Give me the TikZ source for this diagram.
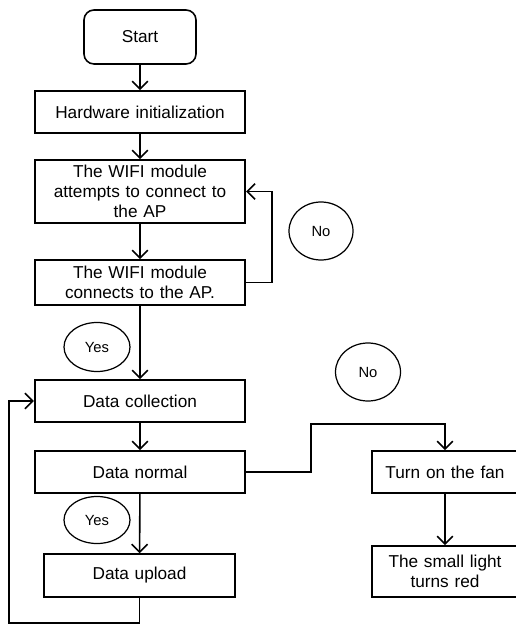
\documentclass[tikz,border=0pt]{standalone}
\usepackage{fontspec}
\setmainfont{Liberation Sans}
\usetikzlibrary{arrows.meta, shapes.geometric}

\begin{document}
\begin{tikzpicture}[
    every node/.style={font=\fontsize{9.8}{11.5}\selectfont, align=center},
    box/.style={draw, line width=0.9pt, inner sep=1pt, text width=#1, minimum width=#1},
    box/.default=4.14cm,
    startbox/.style={draw, line width=0.9pt, rounded corners=0.2cm,
      minimum width=2.24cm, minimum height=1.08cm},
    answer/.style={draw, ellipse, line width=0.7pt, inner sep=0pt,
      font=\fontsize{8.4}{10}\selectfont},
    flow/.style={line width=0.9pt, -{Straight Barb[length=4.5pt, width=9pt]}}]
    \useasboundingbox (0,0) rectangle (10.3,-12.48);
    % main column
    \node[startbox] (start) at (2.8,-0.74) {Start};
    \node[box, minimum height=0.84cm] (hwinit) at (2.8,-2.24) {Hardware initialization};
    \node[box, minimum height=1.26cm] (attempt) at (2.8,-3.83)
      {The WIFI module\\attempts to connect to\\the AP};
    \node[box, minimum height=0.9cm] (connect) at (2.8,-5.65)
      {The WIFI module\\connects to the AP.};
    \node[box, minimum height=0.84cm] (collect) at (2.8,-8.02) {Data collection};
    \node[box, minimum height=0.84cm] (normal) at (2.8,-9.44) {Data normal};
    \node[box=3.74cm, minimum height=0.86cm] (upload) at (2.79,-11.51) {Data upload};
    % right branch
    \node[box=2.84cm, minimum height=0.84cm] (fan) at (8.9,-9.44) {Turn on the fan};
    \node[box=2.84cm, minimum height=1.02cm] (light) at (8.9,-11.43)
      {The small light\\turns red};
    % answers
    \node[answer, minimum width=1.28cm, minimum height=1.16cm] (noA) at (6.42,-4.62) {No};
    \node[answer, minimum width=1.32cm, minimum height=0.98cm] (yesA) at (1.94,-6.94) {Yes};
    \node[answer, minimum width=1.32cm, minimum height=0.94cm] (yesB) at (1.94,-10.4) {Yes};
    \node[answer, minimum width=1.3cm, minimum height=1.16cm] (noB) at (7.36,-7.44) {No};
    % connectors
    \draw[flow] (start) -- (hwinit);
    \draw[flow] (hwinit) -- (attempt);
    \draw[flow] (attempt) -- (connect);
    \draw[flow] (connect.east) -- ++(0.52,0) |- (attempt.east);
    \draw[flow] (connect) -- (collect);
    \draw[flow] (collect) -- (normal);
    \draw[flow] (normal) -- (upload);
    \draw[flow] (upload.south) -- ++(0,-0.5) -| ([xshift=-0.5cm]collect.west) -- (collect.west);
    \draw[flow] (normal.east) -- ++(1.3,0) |- ([yshift=0.52cm]fan.north) -- (fan.north);
    \draw[flow] (fan) -- (light);
\end{tikzpicture}
\end{document}
